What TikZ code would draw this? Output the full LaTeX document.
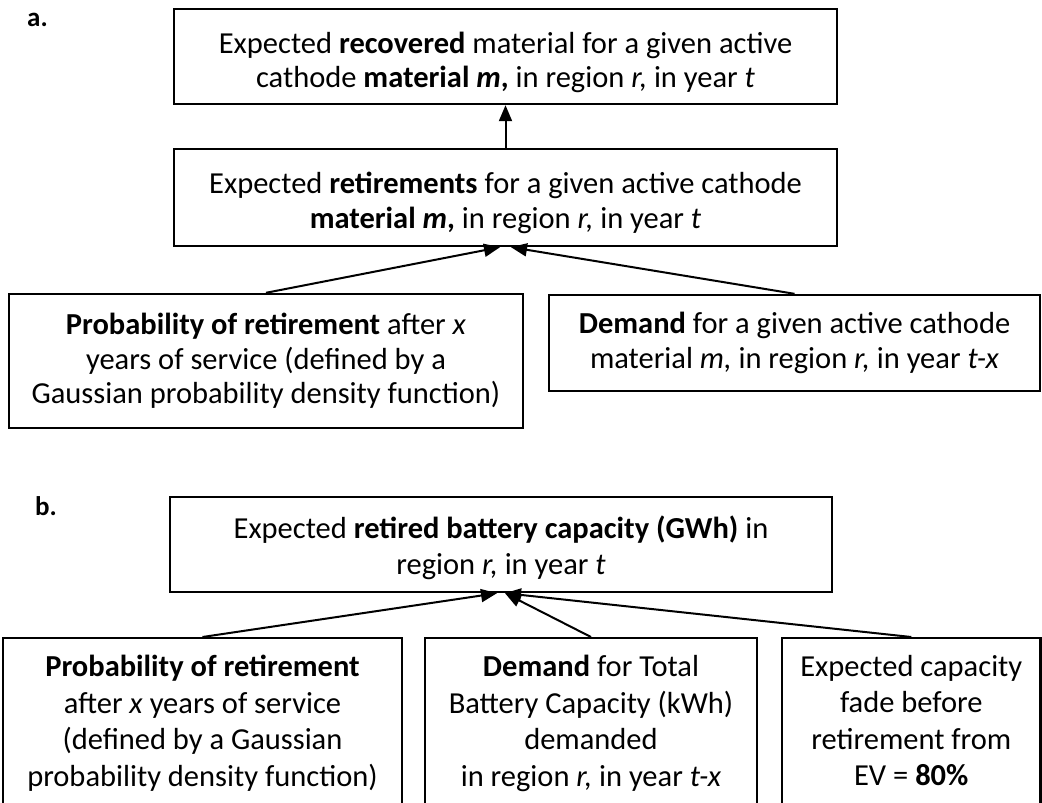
\documentclass[tikz,border=0pt]{standalone}
\usepackage{fontspec}
\setmainfont{Carlito}
\usetikzlibrary{arrows.meta}
% invisible strut: a taller first line moves a text block down in its box
\newcommand{\dropby}[1]{\rule{0pt}{#1}}
\begin{document}
\begin{tikzpicture}[x=1pt,y=-1pt,
  box/.style={draw, line width=2.4pt, inner sep=0pt, align=center},
  fa/.style={font=\fontsize{30.5}{34.5}\selectfont},
  fb/.style={font=\fontsize{30.5}{36.5}\selectfont},
  openbox/.style={box, fb, anchor=north, inner ysep=17pt, text depth=160pt},
  link/.style={line width=2pt, -{Triangle[length=16pt,width=13pt]}},
  lbl/.style={font=\fontsize{27}{30}\selectfont\bfseries, anchor=base west, inner sep=0pt}]
\useasboundingbox (0,0) rectangle (1042,803);
\clip (0,0) rectangle (1042,803);

% panel a
\node[lbl] (la) at (27,27) {a.};
\node[box, fa, minimum width=663, minimum height=95] (rec) at (505.5,56.5)
  {\dropby{33pt}Expected \textbf{recovered} material for a given active\\
   cathode \textbf{material \textit{m},} in region \textit{r,} in year \textit{t}};
\node[box, fa, minimum width=663, minimum height=97] (ret) at (505.5,197.5)
  {\dropby{32pt}Expected \textbf{retirements} for a given active cathode\\
   \textbf{material \textit{m},} in region \textit{r,} in year \textit{t}};
\node[box, fa, minimum width=514, minimum height=134] (proba) at (266,361)
  {\textbf{Probability of retirement} after \textit{x}\\
   years of service (defined by a\\
   Gaussian probability density function)};
\node[box, fa, minimum width=491, minimum height=96] (dema) at (794.5,343)
  {\textbf{Demand} for a given active cathode\\
   material \textit{m,} in region \textit{r,} in year \textit{t-x}};

\draw[link] (ret.north) -- (rec.south);
\draw[link] (proba.north) -- ([xshift=-5.5pt]ret.south);
\draw[link] (dema.north) -- ([xshift=5.5pt]ret.south);

% panel b
\node[lbl] (lb) at (35,515) {b.};
\node[box, fb, minimum width=662, minimum height=95] (cap) at (501,544.5)
  {\dropby{29pt}Expected \textbf{retired battery capacity (GWh)} in\\
   region \textit{r,} in year \textit{t}};
\node[openbox, minimum width=399] (probb) at (202.5,637)
  {\textbf{Probability of retirement}\\
   after \textit{x} years of service\\
   (defined by a Gaussian\\
   probability density function)};
\node[openbox, minimum width=332] (demb) at (591,637)
  {\textbf{Demand} for Total\\
   Battery Capacity (kWh)\\
   demanded\\
   in region \textit{r,} in year \textit{t-x}};
\node[openbox, minimum width=258.5] (fade) at (911.25,637)
  {Expected capacity\\
   fade before\\
   retirement from\\
   EV = \textbf{80\%}};

\draw[link] (probb.north) -- ([xshift=-4pt]cap.south);
\draw[link] (demb.north) -- ([xshift=4pt]cap.south);
\draw[link] (fade.north) -- ([xshift=4pt]cap.south);
\end{tikzpicture}
\end{document}
